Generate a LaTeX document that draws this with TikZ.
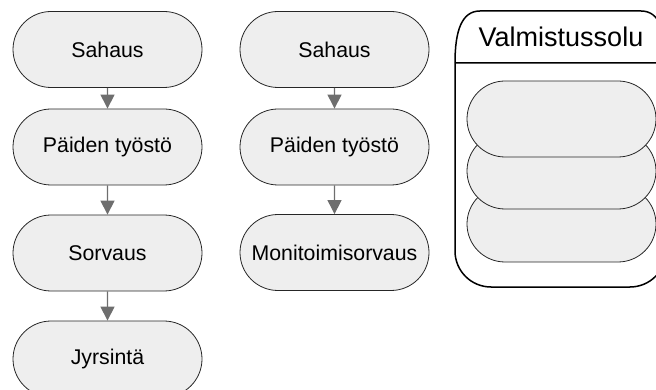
\documentclass[tikz,border=0pt]{standalone}
\usepackage{fontspec}
\setmainfont{Liberation Sans}
\usetikzlibrary{shapes.misc,arrows.meta}
\definecolor{boxfill}{HTML}{EEEEEE}
\definecolor{linegray}{HTML}{6E6E6E}

\begin{document}
\begin{tikzpicture}[x=1pt,y=-1pt,
    vaihe/.style={rounded rectangle,draw=black!85,fill=boxfill,line width=0.8pt,
      minimum width=189pt,minimum height=76pt,inner sep=0pt,
      font=\fontsize{21.3}{25}\selectfont},
    nuoli/.style={draw=linegray,line width=1.2pt,-{Triangle[length=14pt,width=14pt]}}]
            \useasboundingbox (0,0) rectangle (656,390);
            \clip (0,0) rectangle (656,390);
            % ensimmainen ketju
            \node[vaihe] (sahaus1) at (107.5,49.5) {Sahaus};
            \node[vaihe] (paat1) at (107.5,147) {Päiden työstö};
            \node[vaihe] (sorv1) at (107.5,253) {Sorvaus};
            \node[vaihe] (jyrs1) at (107.5,359) {Jyrsintä};
            \draw[nuoli] (sahaus1) to (paat1);
            \draw[nuoli] (paat1) to (sorv1);
            \draw[nuoli] (sorv1) to (jyrs1);
            % toinen ketju
            \node[vaihe] (sahaus2) at (334.5,49.5) {Sahaus};
            \node[vaihe] (paat2) at (334.5,147) {Päiden työstö};
            \node[vaihe] (msorv2) at (334.5,252.5) {Monitoimisorvaus};
            \draw[nuoli] (sahaus2) to (paat2);
            \draw[nuoli] (paat2) to (msorv2);
            % valmistussolu
            \draw[color=black,line width=1.5pt,rounded corners=36pt](455,63) to (455,287) to (666,287) to (666,63);
            \draw[color=black,line width=1.5pt](455,63) .. controls (455,30) and (462,11) .. (480,11) to (641,11) .. controls (659,11) and (666,30) .. (666,63) to (455,63);
            \node[font=\fontsize{27}{31}\selectfont] (solu) at (561,37) {Valmistussolu};
            \node[vaihe] (solu3) at (561.5,224) {};
            \node[vaihe] (solu2) at (561.5,171) {};
            \node[vaihe] (solu1) at (561.5,119) {};
\end{tikzpicture}
\end{document}
